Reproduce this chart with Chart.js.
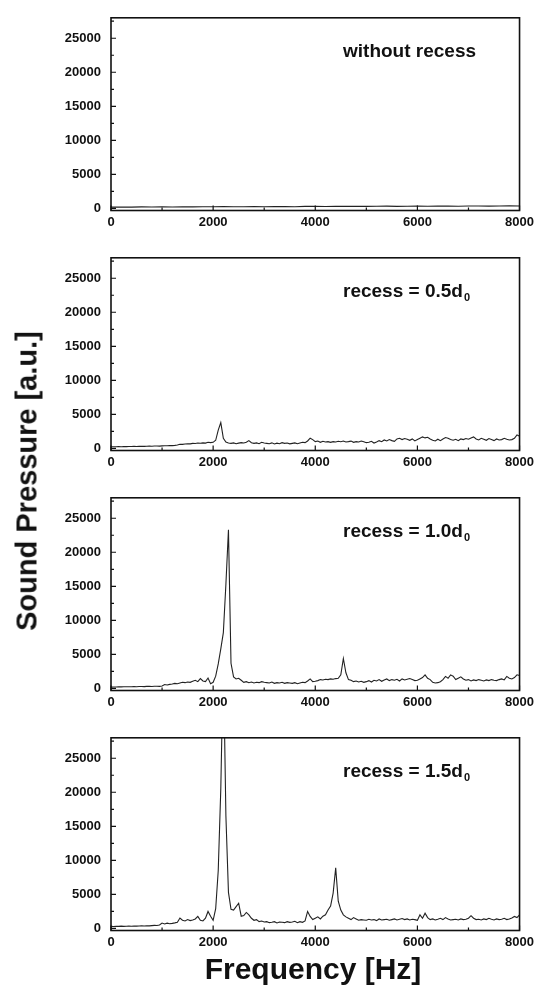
<!DOCTYPE html>
<html>
<head>
<meta charset="utf-8">
<script src="https://cdn.jsdelivr.net/npm/chart.js@4.4.0/dist/chart.umd.min.js"></script>
<style>
  body { margin: 0; background: #fff; }
  #wrap { position: relative; width: 538px; height: 991px; overflow: hidden; }
  canvas.panel { position: absolute; left: 0; }
  #ylabel {
    position: absolute; left: 27px; top: 481px;
    transform: translate(-50%, -50%) rotate(-90deg);
    font: bold 29px "Liberation Sans", Arial, sans-serif;
    white-space: nowrap; color: #111;
  }
  #xlabel {
    position: absolute; left: 113px; width: 400px; top: 952px;
    text-align: center; line-height: 30px;
    font: bold 30px "Liberation Sans", Arial, sans-serif;
    color: #111;
  }
</style>
</head>
<body>
<div id="wrap">
  <canvas class="panel" id="p0" width="538" height="240" style="top:0px"></canvas>
  <canvas class="panel" id="p1" width="538" height="240" style="top:240px"></canvas>
  <canvas class="panel" id="p2" width="538" height="240" style="top:480px"></canvas>
  <canvas class="panel" id="p3" width="538" height="240" style="top:720px"></canvas>
  <div id="ylabel">Sound Pressure [a.u.]</div>
  <div id="xlabel">Frequency [Hz]</div>
</div>
<script>
// Axis ticks.
const xTickValues = [0, 2000, 4000, 6000, 8000];
const xMinorValues = [1000, 3000, 5000, 7000];
const yTickValues = [0, 5000, 10000, 15000, 20000, 25000];
const yMinorValues = [2500, 7500, 12500, 17500, 22500, 27500];

// Sampling grids (Hz): 200 Hz for the flat trace, 50 Hz for the others.
const freqsCoarse = [];
for (let f = 0; f <= 8000; f += 200) freqsCoarse.push(f);
const freqs = [];
for (let f = 0; f <= 8000; f += 50) freqs.push(f);

// Panel captions.
const panelLabels = ['without recess', 'recess = 0.5d', 'recess = 1.0d', 'recess = 1.5d'];
const panelSubs = ['', '0', '0', '0'];

// without recess (200 Hz steps)
const pressureNone = [
  200, 220, 190, 230, 210, 240, 220, 250, 230, 260,
  240, 270, 250, 260, 280, 250, 270, 290, 260, 300,
  320, 290, 310, 300, 330, 310, 320, 340, 310, 330,
  350, 320, 340, 360, 330, 350, 370, 340, 360, 380,
  360
];

// recess = 0.5d0 (50 Hz steps)
const pressure05 = [
  250, 260, 240, 270, 260, 280, 270, 290, 280, 300,
  290, 310, 320, 300, 330, 340, 320, 350, 360, 340,
  380, 400, 390, 420, 410, 450, 500, 620, 600, 650,
  700, 680, 740, 720, 800, 760, 820, 780, 900, 850,
  900, 1200, 2700, 3800, 1500, 950, 800, 750, 820, 700,
  780, 850, 800, 900, 1150, 850, 750, 820, 700, 900,
  800, 750, 700, 820, 650, 780, 700, 850, 750, 800,
  680, 750, 820, 700, 800, 900, 850, 1100, 1500, 1300,
  1000, 1100, 900, 1050, 950, 1000, 900, 1000, 950, 1050,
  980, 1100, 950, 1000, 1080, 900, 1000, 950, 1100, 1000,
  850, 900, 1050, 800, 950, 1150, 1000, 1250, 1100, 1300,
  1150, 1050, 1400, 1500, 1300, 1450, 1350, 1200, 1400, 1100,
  1300, 1500, 1700, 1550, 1650, 1400, 1200, 1100, 1350, 1150,
  1400, 1600, 1500, 1300, 1200, 1350, 1150, 1400, 1300, 1450,
  1350, 1550, 1700, 1400, 1250, 1500, 1350, 1200, 1450, 1300,
  1150, 1400, 1250, 1300, 1500, 1350, 1250, 1300, 1500, 2000,
  1800
];

// recess = 1.0d0
const pressure10 = [
  200, 220, 210, 240, 230, 250, 240, 260, 250, 270,
  260, 280, 290, 270, 300, 310, 290, 320, 330, 310,
  350, 570, 500, 600, 650, 750, 700, 800, 900, 850,
  950, 900, 1050, 1200, 1000, 1440, 1100, 1000, 1530, 700,
  900, 1800, 3600, 5800, 8200, 15300, 23300, 3700, 1700, 1400,
  1500, 1200, 900, 1000, 850, 950, 800, 900, 850, 1000,
  900, 850, 800, 950, 750, 850, 800, 900, 750, 850,
  800, 750, 850, 700, 800, 900, 850, 1100, 1400, 1000,
  1050, 1150, 1300, 1250, 1350, 1300, 1400, 1350, 1450, 1500,
  2000, 4400, 2300, 1300, 1200, 1000, 1100, 950, 1050, 900,
  1000, 1150, 950, 1200, 1100, 1300, 1050, 1250, 1400, 1150,
  1300, 1200, 1350, 1100, 1400, 1250, 1350, 1450, 1300, 1150,
  1200, 1400, 1600, 2000, 1500, 1300, 900, 800, 850, 1000,
  1300, 1770, 1500, 2000, 1800, 1300, 1500, 1700, 1400, 1200,
  1300, 1100, 1250, 1150, 1300, 1200, 1100, 1250, 1150, 1300,
  1200, 1150, 1300, 1400, 1250, 1770, 1500, 1400, 1600, 2000,
  1900
];

// recess = 1.5d0
const pressure15 = [
  300, 280, 320, 300, 340, 310, 330, 350, 320, 360,
  340, 370, 390, 360, 400, 380, 420, 450, 430, 500,
  800, 650, 780, 700, 750, 820, 900, 1530, 1200, 1100,
  1300, 1150, 1250, 1400, 1770, 1200, 1100, 1500, 2500, 1800,
  1200, 2900, 8500, 20500, 40000, 16500, 5300, 2800, 2700, 3200,
  3700, 1800, 1900, 2350, 2000, 1500, 1200, 1300, 1000, 1100,
  950, 1000, 850, 900, 1000, 800, 950, 900, 850, 1000,
  900, 950, 1050, 850, 1000, 900, 1100, 2500, 1770, 1300,
  1500, 1700, 1400, 1800, 2000, 2700, 3300, 5200, 8900, 4000,
  2700, 2000, 1700, 1500, 1300, 1600, 1400, 1200, 1300, 1250,
  1200, 1350, 1250, 1300, 1150, 1400, 1250, 1300, 1350, 1200,
  1300, 1400, 1250, 1350, 1450, 1300, 1400, 1250, 1350, 1300,
  1200, 2000, 1500, 2250, 1600, 1300, 1400, 1250, 1350, 1500,
  1300, 1600, 1400, 1250, 1300, 1350, 1250, 1400, 1300, 1350,
  1500, 1870, 1500, 1300, 1350, 1250, 1400, 1300, 1500, 1350,
  1250, 1400, 1300, 1350, 1500, 1300, 1400, 1550, 1770, 1600,
  2000
];

const panelSeries = [
  [freqsCoarse, pressureNone],
  [freqs, pressure05],
  [freqs, pressure10],
  [freqs, pressure15]
];

const fontFamily = '"Liberation Sans", Arial, sans-serif';
const tickFont = { family: fontFamily, size: 13, weight: 'bold' };
const ink = '#111';
const plainNumber = (v) => String(v);

// Box round the plot and the short inward tick marks.
const framePlugin = {
  id: 'frame',
  afterDatasetsDraw(chart) {
    const { ctx, chartArea: a, scales: { x, y } } = chart;
    ctx.save();
    ctx.strokeStyle = ink;
    ctx.lineWidth = 1.6;
    ctx.strokeRect(a.left, a.top, a.right - a.left, a.bottom - a.top);
    ctx.lineWidth = 1.2;
    ctx.beginPath();
    const xTick = (v, len) => {
      const px = x.getPixelForValue(v);
      ctx.moveTo(px, a.bottom);
      ctx.lineTo(px, a.bottom - len);
    };
    const yTick = (v, len) => {
      const py = y.getPixelForValue(v);
      ctx.moveTo(a.left, py);
      ctx.lineTo(a.left + len, py);
    };
    xTickValues.forEach(v => xTick(v, 5));
    xMinorValues.forEach(v => xTick(v, 3));
    yTickValues.forEach(v => yTick(v, 5));
    yMinorValues.forEach(v => yTick(v, 3));
    ctx.stroke();
    ctx.restore();
  }
};

// Caption in the upper right of each panel, with its subscript.
const captionPlugin = {
  id: 'caption',
  afterDraw(chart, args, opts) {
    const { ctx, chartArea: a } = chart;
    ctx.save();
    ctx.fillStyle = ink;
    ctx.textBaseline = 'alphabetic';
    ctx.font = 'bold 19px ' + fontFamily;
    const x0 = a.left + 232;
    const y0 = a.top + 39;
    ctx.fillText(opts.text, x0, y0);
    if (opts.sub) {
      const w = ctx.measureText(opts.text).width;
      ctx.font = 'bold 11px ' + fontFamily;
      ctx.fillText(opts.sub, x0 + w + 1, y0 + 4);
    }
    ctx.restore();
  }
};

function makePanel(canvasId, index) {
  const [xs, ys] = panelSeries[index];
  return new Chart(document.getElementById(canvasId), {
    type: 'line',
    data: {
      datasets: [{
        data: xs.map((f, i) => ({ x: f, y: ys[i] })),
        borderColor: '#222',
        borderWidth: 1.1,
        pointRadius: 0,
        tension: 0,
        fill: false
      }]
    },
    options: {
      responsive: false,
      animation: false,
      layout: { padding: { top: 14, right: 18, left: 0, bottom: 0 } },
      plugins: {
        legend: { display: false },
        tooltip: { enabled: false },
        caption: { text: panelLabels[index], sub: panelSubs[index] }
      },
      scales: {
        x: {
          type: 'linear',
          min: 0,
          max: 8000,
          grid: { display: false, drawTicks: false },
          border: { display: false },
          ticks: { font: tickFont, color: ink, padding: 4, maxRotation: 0, autoSkip: false, callback: plainNumber },
          afterBuildTicks: (s) => { s.ticks = xTickValues.map(v => ({ value: v })); },
          afterFit: (s) => { s.height = 29.5; }
        },
        y: {
          min: -300,
          max: 28000,
          grid: { display: false, drawTicks: false },
          border: { display: false },
          ticks: { font: tickFont, color: ink, padding: 10, callback: plainNumber },
          afterBuildTicks: (s) => { s.ticks = yTickValues.map(v => ({ value: v })); },
          afterFit: (s) => { s.width = 111; }
        }
      }
    },
    plugins: [framePlugin, captionPlugin]
  });
}

const charts = ['p0', 'p1', 'p2', 'p3'].map((id, i) => makePanel(id, i));
</script>
</body>
</html>
